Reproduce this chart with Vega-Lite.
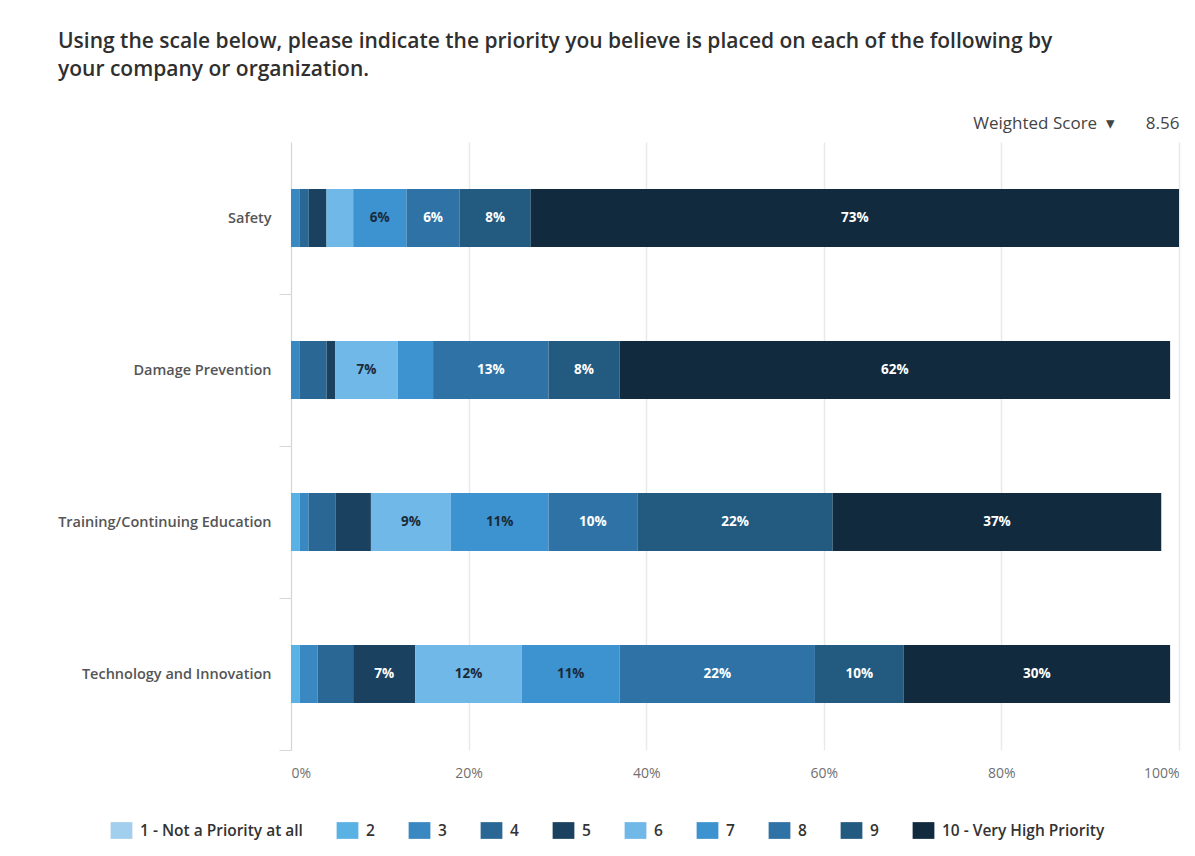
{
  "$schema": "https://vega.github.io/schema/vega-lite/v6.json",
  "width": 888,
  "height": 608,
  "autosize": {"type": "none"},
  "padding": {"left": 291, "top": 142, "right": 16, "bottom": 106},
  "background": "#ffffff",
  "config": {
    "font": "Open Sans",
    "view": {"stroke": null},
    "text": {"font": "Open Sans"}
  },
  "title": {
    "text": ["Using the scale below, please indicate the priority you believe is placed on each of the following by", "your company or organization."],
    "anchor": "start",
    "frame": "group",
    "dx": -233,
    "dy": 6,
    "font": "Open Sans",
    "fontSize": 21,
    "fontWeight": 600,
    "color": "#2f2f2f",
    "lineHeight": 28,
    "offset": 40
  },
  "data": {
    "values": [
      {"item": "Safety", "level": 3, "label": "3", "value": 0.01},
      {"item": "Safety", "level": 4, "label": "4", "value": 0.01},
      {"item": "Safety", "level": 5, "label": "5", "value": 0.02},
      {"item": "Safety", "level": 6, "label": "6", "value": 0.03},
      {"item": "Safety", "level": 7, "label": "7", "value": 0.06},
      {"item": "Safety", "level": 8, "label": "8", "value": 0.06},
      {"item": "Safety", "level": 9, "label": "9", "value": 0.08},
      {"item": "Safety", "level": 10, "label": "10 - Very High Priority", "value": 0.73},
      {"item": "Damage Prevention", "level": 3, "label": "3", "value": 0.01},
      {"item": "Damage Prevention", "level": 4, "label": "4", "value": 0.03},
      {"item": "Damage Prevention", "level": 5, "label": "5", "value": 0.01},
      {"item": "Damage Prevention", "level": 6, "label": "6", "value": 0.07},
      {"item": "Damage Prevention", "level": 7, "label": "7", "value": 0.04},
      {"item": "Damage Prevention", "level": 8, "label": "8", "value": 0.13},
      {"item": "Damage Prevention", "level": 9, "label": "9", "value": 0.08},
      {"item": "Damage Prevention", "level": 10, "label": "10 - Very High Priority", "value": 0.62},
      {"item": "Training/Continuing Education", "level": 2, "label": "2", "value": 0.01},
      {"item": "Training/Continuing Education", "level": 3, "label": "3", "value": 0.01},
      {"item": "Training/Continuing Education", "level": 4, "label": "4", "value": 0.03},
      {"item": "Training/Continuing Education", "level": 5, "label": "5", "value": 0.04},
      {"item": "Training/Continuing Education", "level": 6, "label": "6", "value": 0.09},
      {"item": "Training/Continuing Education", "level": 7, "label": "7", "value": 0.11},
      {"item": "Training/Continuing Education", "level": 8, "label": "8", "value": 0.10},
      {"item": "Training/Continuing Education", "level": 9, "label": "9", "value": 0.22},
      {"item": "Training/Continuing Education", "level": 10, "label": "10 - Very High Priority", "value": 0.37},
      {"item": "Technology and Innovation", "level": 2, "label": "2", "value": 0.01},
      {"item": "Technology and Innovation", "level": 3, "label": "3", "value": 0.02},
      {"item": "Technology and Innovation", "level": 4, "label": "4", "value": 0.04},
      {"item": "Technology and Innovation", "level": 5, "label": "5", "value": 0.07},
      {"item": "Technology and Innovation", "level": 6, "label": "6", "value": 0.12},
      {"item": "Technology and Innovation", "level": 7, "label": "7", "value": 0.11},
      {"item": "Technology and Innovation", "level": 8, "label": "8", "value": 0.22},
      {"item": "Technology and Innovation", "level": 9, "label": "9", "value": 0.10},
      {"item": "Technology and Innovation", "level": 10, "label": "10 - Very High Priority", "value": 0.30}
    ]
  },
  "layer": [
    {
      "mark": {"type": "bar"},
      "encoding": {
        "y": {
          "field": "item",
          "type": "nominal",
          "sort": ["Safety", "Damage Prevention", "Training/Continuing Education", "Technology and Innovation"],
          "scale": {"paddingInner": 0.618, "paddingOuter": 0.309},
          "axis": {
            "title": null,
            "labelFontSize": 14.5,
            "labelFontWeight": 600,
            "labelColor": "#555555",
            "labelPadding": 8,
            "labelLimit": 300,
            "labelOffset": -76,
            "tickOffset": 76,
            "tickSize": 12,
            "tickColor": "#d6d6d6",
            "domainColor": "#d6d6d6",
            "grid": false
          }
        },
        "x": {
          "field": "value",
          "type": "quantitative",
          "stack": "zero",
          "scale": {"domain": [0, 1], "nice": false},
          "axis": {
            "title": null,
            "orient": "bottom",
            "format": ".0%",
            "values": [0, 0.2, 0.4, 0.6, 0.8, 1],
            "labelFontSize": 14,
            "labelColor": "#707070",
            "labelPadding": 16,
            "domain": false,
            "ticks": false,
            "grid": true,
            "gridColor": "#e9e9e9",
            "gridWidth": 1.5
          }
        },
        "color": {
          "field": "label",
          "type": "nominal",
          "scale": {
            "domain": ["1 - Not a Priority at all", "2", "3", "4", "5", "6", "7", "8", "9", "10 - Very High Priority"],
            "range": ["#a3cfee", "#5ab1e4", "#3a88c2", "#2a6794", "#1a4260", "#6fb8e8", "#3c93d0", "#2e72a6", "#235a80", "#112a3d"]
          },
          "legend": {
            "title": null,
            "orient": "none",
            "direction": "horizontal",
            "legendX": -178,
            "legendY": 680,
            "symbolType": "M-1.3,-1H1.3V1H-1.3Z",
            "symbolSize": 280,
            "symbolStrokeWidth": 0,
            "symbolOpacity": 1,
            "labelFont": "Open Sans",
            "labelFontSize": 15.5,
            "labelFontWeight": 600,
            "labelColor": "#333333",
            "labelOffset": 10,
            "labelLimit": 300,
            "columnPadding": 33
          }
        },
        "order": {"field": "level", "type": "quantitative", "sort": "ascending"}
      }
    },
    {
      "mark": {"type": "text", "fontSize": 13.5, "fontWeight": "bold", "align": "center", "baseline": "middle"},
      "encoding": {
        "y": {"field": "item", "type": "nominal", "sort": ["Safety", "Damage Prevention", "Training/Continuing Education", "Technology and Innovation"]},
        "x": {
          "field": "value",
          "type": "quantitative",
          "stack": "zero",
          "bandPosition": 0.5,
          "axis": {
            "orient": "top",
            "title": "Weighted Score\u00a0\u00a0▾\u00a0\u00a0\u00a0\u00a0\u00a0\u00a0\u00a08.56",
            "titleAnchor": "end",
            "titleFont": "Open Sans",
            "titleFontSize": 17,
            "titleFontWeight": "normal",
            "titleColor": "#444444",
            "titlePadding": 10,
            "labels": false,
            "ticks": false,
            "domain": false,
            "grid": false
          }
        },
        "order": {"field": "level", "type": "quantitative", "sort": "ascending"},
        "text": {
          "condition": {"test": "datum.value < 0.05", "value": ""},
          "field": "value",
          "type": "quantitative",
          "format": ".0%"
        },
        "color": {
          "condition": {"test": "indexof([1, 2, 6, 7], datum.level) >= 0", "value": "#1b2a3a"},
          "value": "#ffffff"
        }
      }
    }
  ],
  "resolve": {"axis": {"x": "independent"}}
}
